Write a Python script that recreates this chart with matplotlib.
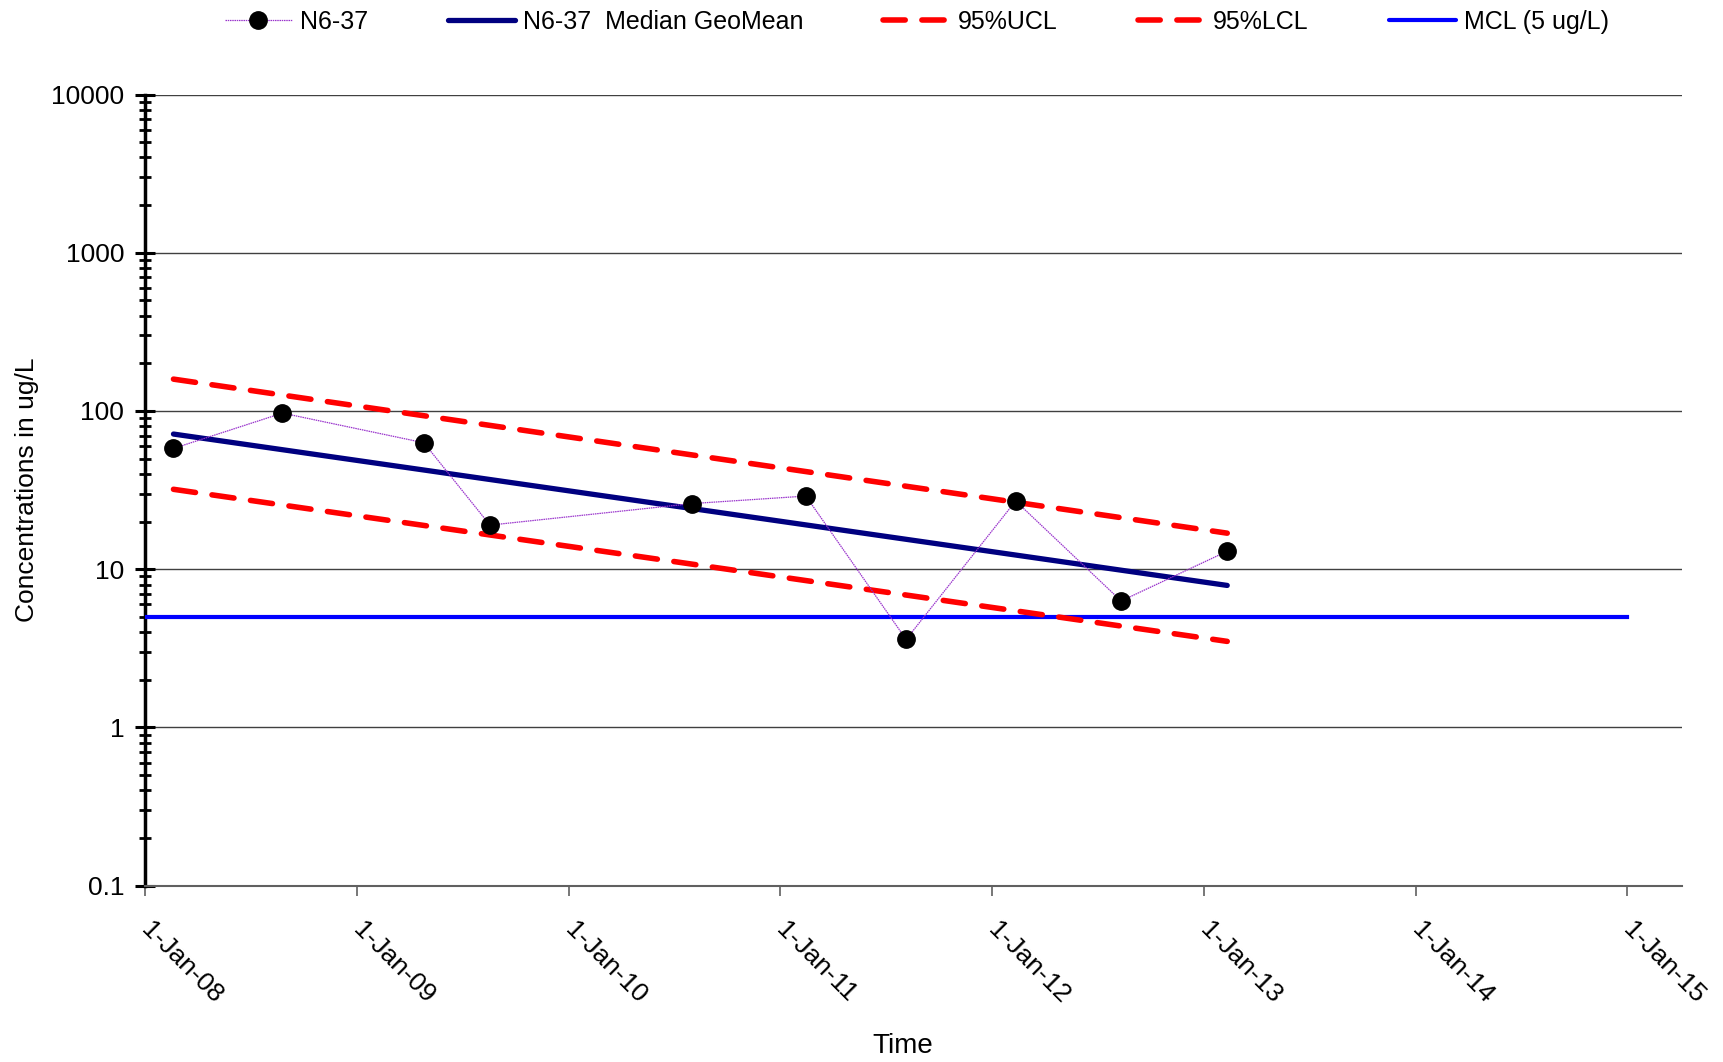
import matplotlib
matplotlib.use("Agg")
import matplotlib.pyplot as plt
import matplotlib.dates as mdates
from matplotlib.ticker import LogLocator, FixedLocator, FixedFormatter, NullFormatter
from matplotlib.lines import Line2D
import datetime as dt

plt.rcParams['font.family'] = ['Liberation Sans', 'DejaVu Sans']

# Sampled concentrations at well N6-37 (ug/L)
sample_dates = ["2008-02-19", "2008-08-25", "2009-04-26", "2009-08-18", "2010-08-02",
                "2011-02-14", "2011-08-06", "2012-02-11", "2012-08-11", "2013-02-10"]
sample_values = [58, 97, 63, 19, 26, 29, 3.6, 27, 6.3, 13]

# Trend end points (exponential fits, straight on a log axis)
trend_dates = ["2008-02-19", "2013-02-10"]
median_geomean = [71.5, 7.9]
ucl_95 = [159, 16.9]
lcl_95 = [32, 3.5]

# Maximum contaminant level
mcl_dates = ["2008-01-01", "2015-01-01"]
mcl_values = [5, 5]

tick_years = list(range(2008, 2016))
y_ticks = [0.1, 1, 10, 100, 1000, 10000]
y_labels = ["0.1", "1", "10", "100", "1000", "10000"]


def to_dt(s):
    return dt.datetime.strptime(s, "%Y-%m-%d")


fig = plt.figure(figsize=(17.23, 10.62), dpi=100)
ax = fig.add_axes([0.0842, 0.166, 0.8918, 0.745])

ax.set_yscale('log')
ax.set_ylim(0.1, 10000)
ax.set_xlim(dt.datetime(2008, 1, 1), dt.datetime(2015, 4, 5))

ax.yaxis.set_major_locator(FixedLocator(y_ticks))
ax.yaxis.set_major_formatter(FixedFormatter(y_labels))
ax.yaxis.set_minor_locator(LogLocator(base=10, subs=range(2, 10)))
ax.yaxis.set_minor_formatter(NullFormatter())

ax.grid(axis='y', which='major', color='#404040', linewidth=1.0, zorder=0)

# series
ax.plot([to_dt(d) for d in sample_dates], sample_values, color='#9933CC', lw=0.9,
        linestyle=(0, (1.2, 0.6)), marker='o', markersize=12.5, markerfacecolor='black',
        markeredgecolor='black', zorder=5)
td = [to_dt(d) for d in trend_dates]
ax.plot(td, median_geomean, color='#000080', lw=3.8, solid_capstyle='round', zorder=4)
ax.plot(td, ucl_95, color='#FF0000', lw=4, linestyle=(0, (4, 3)), dash_capstyle='round', zorder=4)
ax.plot(td, lcl_95, color='#FF0000', lw=4, linestyle=(0, (4, 3)), dash_capstyle='round', zorder=4)
ax.plot([to_dt(d) for d in mcl_dates], mcl_values, color='#0000FF', lw=3, zorder=3)

# x axis
ax.xaxis.set_major_locator(FixedLocator(
    [mdates.date2num(dt.datetime(y, 1, 1)) for y in tick_years]))
ax.xaxis.set_major_formatter(FixedFormatter([f"1-Jan-{y % 100:02d}" for y in tick_years]))
for lbl in ax.get_xticklabels():
    lbl.set_rotation(-45)
    lbl.set_rotation_mode('anchor')
    lbl.set_ha('left')
    lbl.set_va('center')
ax.tick_params(axis='x', which='major', length=7, width=1.2, color='#606060',
               labelsize=19, pad=22)
ax.tick_params(axis='y', which='major', direction='inout', length=14, width=2.2,
               labelsize=19, pad=8)
ax.tick_params(axis='y', which='minor', direction='inout', length=8, width=2)

for s in ['top', 'right']:
    ax.spines[s].set_visible(False)
ax.spines['left'].set_linewidth(2.5)
ax.spines['bottom'].set_color('#606060')
ax.spines['bottom'].set_linewidth(1.5)

ax.set_xlabel("Time", fontsize=20)
ax.xaxis.set_label_coords(0.493, -0.186, transform=ax.transAxes)
ax.set_ylabel("Concentrations in ug/L", fontsize=19)
ax.yaxis.set_label_coords(-0.069, 0.5)

handles = [
    Line2D([], [], color='#9933CC', lw=0.9, linestyle=(0, (1.2, 0.6)), marker='o',
           markersize=12.5, markerfacecolor='black', markeredgecolor='black'),
    Line2D([], [], color='#000080', lw=3.8, solid_capstyle='round'),
    Line2D([], [], color='#FF0000', lw=4, linestyle=(0, (4, 3)), dash_capstyle='round'),
    Line2D([], [], color='#FF0000', lw=4, linestyle=(0, (4, 3)), dash_capstyle='round'),
    Line2D([], [], color='#0000FF', lw=3, solid_capstyle='round'),
]
labels = ["N6-37", "N6-37  Median GeoMean", "95%UCL", "95%LCL", "MCL (5 ug/L)"]
fig.legend(handles, labels, loc='upper center', bbox_to_anchor=(0.532, 1.012), ncol=5,
           frameon=False, fontsize=18, handlelength=2.7, handletextpad=0.3,
           columnspacing=3.2)

fig.savefig("out.png", dpi=100)
